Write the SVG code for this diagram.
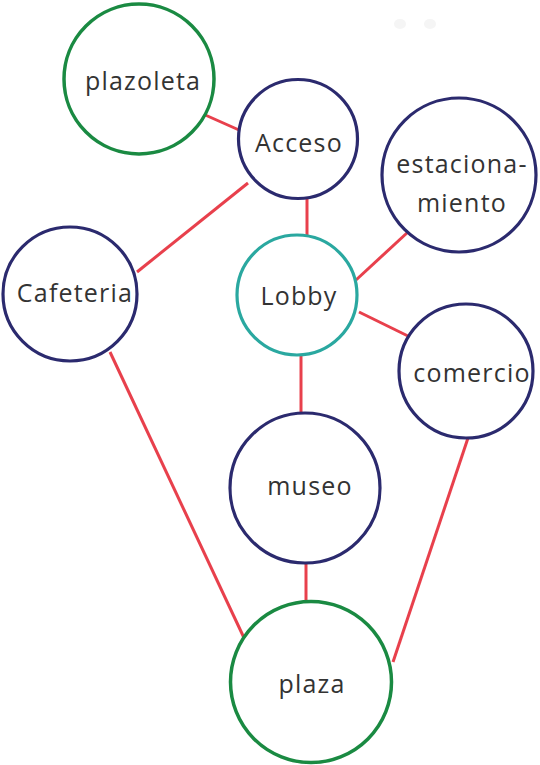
<svg xmlns="http://www.w3.org/2000/svg" width="540" height="765" viewBox="0 0 540 765">
<style>
.n{fill:#ffffff;stroke-width:3.2}
.g{stroke:#1a8a42;stroke-width:3.5}
.b{stroke:#2b2a6e}
.t{stroke:#2aa8a0}
.e{stroke:#e8404c;stroke-width:3;stroke-linecap:butt}
text{font-family:"Open Sans","Noto Sans","Liberation Sans",sans-serif;font-size:25px;letter-spacing:1.2px;fill:#333333;text-anchor:middle}
</style>
<rect width="540" height="765" fill="#ffffff"/>
<g id="smudges" fill="#ececec" opacity="0.5">
<ellipse cx="400" cy="24" rx="6" ry="5"/>
<ellipse cx="430" cy="24" rx="6" ry="5"/>
</g>
<g id="connectors">
<line class="e" x1="203" y1="114" x2="239" y2="130"/>
<line class="e" x1="248" y1="183" x2="137" y2="272"/>
<line class="e" x1="307" y1="192" x2="307" y2="237"/>
<line class="e" x1="408" y1="232" x2="356" y2="280"/>
<line class="e" x1="359" y1="312" x2="410" y2="337"/>
<line class="e" x1="301" y1="355" x2="301" y2="414"/>
<line class="e" x1="110" y1="352" x2="245" y2="640"/>
<line class="e" x1="306" y1="562" x2="306" y2="602"/>
<line class="e" x1="468" y1="438" x2="393" y2="662"/>
</g>
<g id="plazoleta"><circle class="n g" cx="139" cy="79" r="75"/><text x="143" y="90">plazoleta</text></g>
<g id="acceso"><circle class="n b" cx="298" cy="139" r="59.5"/><text x="299" y="152">Acceso</text></g>
<g id="estacionamiento"><circle class="n b" cx="459" cy="175" r="77"/><text x="462" y="173">estaciona-</text><text x="462" y="212">miento</text></g>
<g id="cafeteria"><circle class="n b" cx="70" cy="294" r="67"/><text x="75" y="302">Cafeteria</text></g>
<g id="lobby"><circle class="n t" cx="297" cy="295" r="60"/><text x="299" y="305">Lobby</text></g>
<g id="comercio"><circle class="n b" cx="466" cy="371" r="67"/><text x="472" y="382">comercio</text></g>
<g id="museo"><circle class="n b" cx="305" cy="488" r="75"/><text x="310" y="495">museo</text></g>
<g id="plaza"><circle class="n g" cx="311" cy="682" r="80.5"/><text x="312" y="693">plaza</text></g>
</svg>
